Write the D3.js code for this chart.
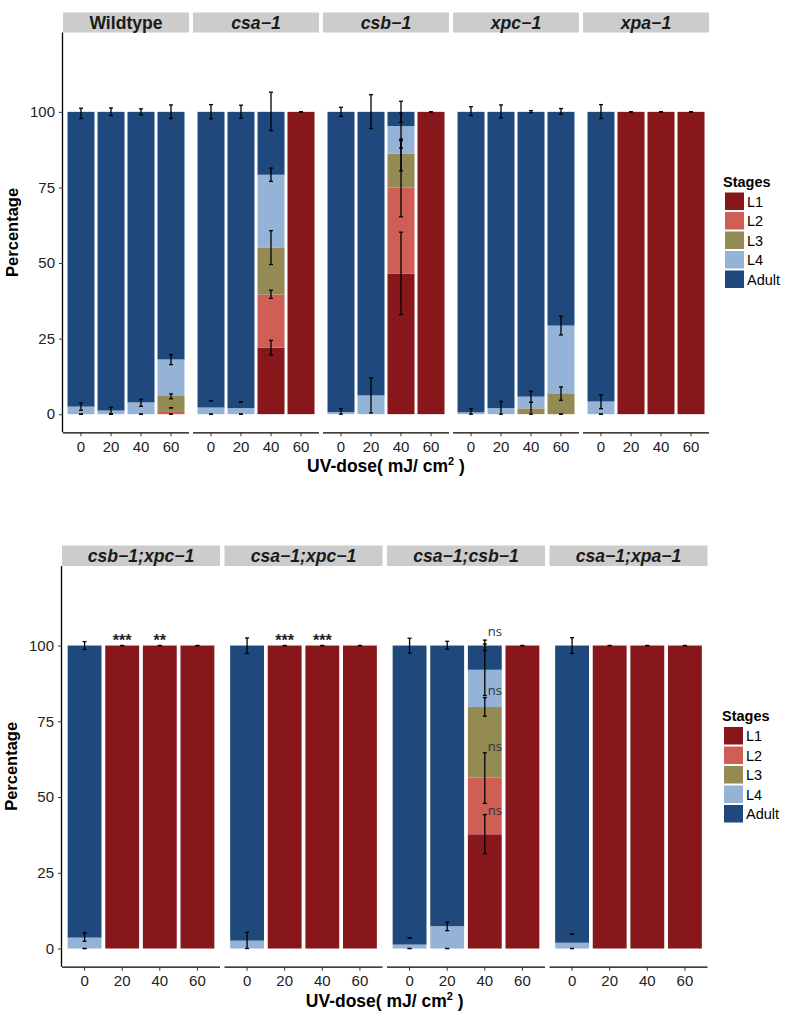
<!DOCTYPE html>
<html><head><meta charset="utf-8">
<script src="https://cdn.jsdelivr.net/npm/d3@7"></script>
<style>body{margin:0;background:#fff}svg{display:block}</style>
</head><body>
<svg id="c" width="800" height="1020"></svg>
<script>
// ---------- data ----------
const doses = ["0","20","40","60"];
const stages = ["L1","L2","L3","L4","Adult"];
const stageColors = ["#87171a","#cf5f55","#948a54","#95b3d7","#1f497d"];
const yTicks = [0,25,50,75,100];

const topGenotypes = ["Wildtype","csa\u22121","csb\u22121","xpc\u22121","xpa\u22121"];
const topL1    = [0,0,0,0,      0,0,22,100,     0,0,46.5,100,   0,0,0,0,        0,100,100,100];
const topL2    = [0,0,0,1,      0,0,17.6,0,     0,0,28.5,0,     0,0,0,0,        0,0,0,0];
const topL3    = [0,0,0,5,      0,0,15.4,0,     0,0,11.2,0,     0,0,1.9,6.9,    0,0,0,0];
const topL4    = [2.5,1.2,3.9,12.1, 2.2,2.0,24.2,0, 0.7,6.2,9.1,0, 0.6,2.0,3.9,22.4, 4.2,0,0,0];
const topAdult = [97.5,98.8,96.1,81.9, 97.8,98,20.8,0, 99.3,93.8,4.7,0, 99.4,98,94.2,70.7, 95.8,0,0,0];
// [genotype, dose, ymin, ymax]
const topErrors = [
 [0,0,97.8,101.2],[0,0,1.3,3.7],[0,0,0,0],
 [0,1,98.8,101.3],[0,1,0.1,2.3],[0,1,0,0],
 [0,2,99,101],[0,2,2.6,4.9],[0,2,0,0],
 [0,3,97.8,102.3],[0,3,16.4,19.7],[0,3,5.1,6.7],[0,3,2.1,2.1],[0,3,0,0],
 [1,0,97.7,102.4],[1,0,4.4,4.4],[1,0,0,0],
 [1,1,97.9,102.2],[1,1,4.0,4.0],[1,1,0,0],
 [1,2,93.8,106.5],[1,2,77,81.4],[1,2,49.5,60.7],[1,2,38.3,41],[1,2,19.6,24.4],
 [1,3,100,100],
 [2,0,98.5,101.5],[2,0,0,1.8],
 [2,1,94.5,105.7],[2,1,0.4,12],
 [2,2,96.5,103.5],[2,2,88,99.5],[2,2,80.5,91],[2,2,65.3,90.5],[2,2,32.9,60.2],
 [2,3,100,100],
 [3,0,98.8,101.7],[3,0,0,1.8],
 [3,1,98,102.3],[3,1,0,4.2],
 [3,2,99.7,100.4],[3,2,3.9,7.6],[3,2,0,3.9],
 [3,3,99.2,101.1],[3,3,26.2,32.4],[3,3,4.6,9.0],[3,3,0,0],
 [4,0,97.8,102.4],[4,0,1.8,6.4],[4,0,0,0],
 [4,1,100,100],[4,2,100,100],[4,3,100,100]
];

const botGenotypes = ["csb\u22121;xpc\u22121","csa\u22121;xpc\u22121","csa\u22121;csb\u22121","csa\u22121;xpa\u22121"];
const botL1    = [0,100,100,100,  0,100,100,100,  0,0,37.7,100,   0,100,100,100];
const botL2    = [0,0,0,0,        0,0,0,0,        0,0,18.7,0,     0,0,0,0];
const botL3    = [0,0,0,0,        0,0,0,0,        0,0,23.3,0,     0,0,0,0];
const botL4    = [3.6,0,0,0,      2.6,0,0,0,      1.3,7.4,12.3,0, 1.9,0,0,0];
const botAdult = [96.4,0,0,0,     97.4,0,0,0,     98.7,92.6,8,0,  98.1,0,0,0];
const botErrors = [
 [0,0,98.7,101.3],[0,0,2.4,5.2],[0,0,0,0],
 [0,1,100,100],[0,2,100,100],[0,3,100,100],
 [1,0,97.4,102.5],[1,0,0,5.3],
 [1,1,100,100],[1,2,100,100],[1,3,100,100],
 [2,0,97.5,102.4],[2,0,3.5,3.5],[2,0,0,0],
 [2,1,98.8,101.4],[2,1,5.9,8.7],[2,1,0,0],
 [2,2,98.3,101.8],[2,2,83.5,100.5],[2,2,76.7,82.8],[2,2,47.9,64.6],[2,2,31.3,44.2],
 [2,3,100,100],
 [3,0,97.4,102.6],[3,0,4.7,4.7],[3,0,0,0],
 [3,1,100,100],[3,2,100,100],[3,3,100,100]
];
// significance stars [genotype, dose, label, value]
const botStars = [[0,1,"***",102.7],[0,2,"**",102.7],[1,1,"***",102.7],[1,2,"***",102.7]];
// ns annotations [genotype, dose, label, value]
const botNs = [[2,2,"ns",103.1],[2,2,"ns",83.7],[2,2,"ns",65.1],[2,2,"ns",44.1]];

// ---------- drawing ----------
const svg = d3.select("#c");
const FONT = "'Liberation Sans', Arial, sans-serif";

function buildRows(genos, L1, L2, L3, L4, Ad){
  const rows = [];
  genos.forEach((g,gi)=>doses.forEach((d,di)=>{
    const k = gi*doses.length+di;
    rows.push({g:gi,d,L1:L1[k],L2:L2[k],L3:L3[k],L4:L4[k],Adult:Ad[k]});
  }));
  return rows;
}

function drawChart(o){
  const y = d3.scaleLinear().domain([-6,126.25]).range([o.bottom,o.top]);
  const rows = buildRows(o.genos,o.L1,o.L2,o.L3,o.L4,o.Ad);
  const series = d3.stack().keys(stages)(rows);
  const color = d3.scaleOrdinal().domain(stages).range(stageColors);
  const g = svg.append("g");

  o.genos.forEach((name,gi)=>{
    const x0 = o.left + gi*o.pitch;
    const x = d3.scaleBand().domain(doses).range([x0,x0+o.pw]).paddingInner(0.1).paddingOuter(0.15);
    const pg = g.append("g");
    // strip
    pg.append("rect").attr("x",x0).attr("y",o.top-o.stripH).attr("width",o.pw).attr("height",o.stripH).attr("fill","#cccccc");
    pg.append("text").attr("x",x0+o.pw/2).attr("y",o.top-o.stripH/2+6.2)
      .attr("text-anchor","middle").attr("font-family",FONT).attr("font-size",17.6).attr("font-weight","bold")
      .attr("font-style", name==="Wildtype"?"normal":"italic").attr("fill","#1a1a1a").text(name);
    // bars
    series.forEach(s=>{
      pg.append("g").attr("fill",color(s.key)).selectAll("rect")
        .data(s.filter(d=>d.data.g===gi && d[1]-d[0]>0))
        .join("rect")
        .attr("x",d=>x(d.data.d)).attr("width",x.bandwidth())
        .attr("y",d=>y(d[1])).attr("height",d=>y(d[0])-y(d[1]));
    });
    // error bars
    const errs = o.errors.filter(e=>e[0]===gi);
    const eg = pg.append("g").attr("stroke","#000").attr("stroke-width",1.3);
    errs.forEach(e=>{
      const cx = x(doses[e[1]])+x.bandwidth()/2;
      eg.append("line").attr("x1",cx).attr("x2",cx).attr("y1",y(e[2])).attr("y2",y(e[3]));
      [e[2],e[3]].forEach(v=>eg.append("line").attr("x1",cx-2).attr("x2",cx+2).attr("y1",y(v)).attr("y2",y(v)));
    });
    // stars
    (o.stars||[]).filter(s=>s[0]===gi).forEach(s=>{
      const cx = x(doses[s[1]])+x.bandwidth()/2;
      pg.append("text").attr("x",cx).attr("y",y(s[3])+9).attr("text-anchor","middle")
        .attr("font-family",FONT).attr("font-size",16).attr("font-weight","bold").attr("fill","#222").text(s[2]);
    });
    (o.ns||[]).filter(s=>s[0]===gi).forEach(s=>{
      const cx = x(doses[s[1]])+x.bandwidth()/2;
      pg.append("text").attr("x",cx+3).attr("y",y(s[3])).attr("text-anchor","start")
        .attr("font-family","'Open Sans', sans-serif").attr("font-size",13).attr("fill","#333").text(s[2]);
    });
    // x axis per panel
    const ax = pg.append("g").attr("transform",`translate(0,${o.bottom})`)
      .call(d3.axisBottom(x).tickSize(4).tickSizeOuter(0).tickPadding(5));
    ax.select(".domain").attr("stroke","#000").attr("stroke-width",1.3).attr("d",`M${x0},0.5H${x0+o.pw}`);
    ax.selectAll(".tick line").attr("stroke","#333");
    ax.selectAll("text").attr("font-family",FONT).attr("font-size",15).attr("fill","#222");
  });

  // y axis
  const ay = g.append("g").attr("transform",`translate(${o.left},0)`)
    .call(d3.axisLeft(y).tickValues(yTicks).tickSize(4).tickPadding(4));
  ay.select(".domain").attr("stroke","#000").attr("stroke-width",1.3).attr("d",`M-0.5,${o.top}V${o.bottom}`);
  ay.selectAll(".tick line").attr("stroke","#333");
  ay.selectAll("text").attr("font-family",FONT).attr("font-size",15).attr("fill","#222");

  // titles
  g.append("text").attr("transform",`translate(${o.left-45},${(o.top+o.bottom)/2}) rotate(-90)`)
    .attr("text-anchor","middle").attr("font-family",FONT).attr("font-size",16.5).attr("font-weight","bold").text("Percentage");
  const tx = o.left + ((o.genos.length-1)*o.pitch + o.pw)/2;
  const xt = g.append("text").attr("x",tx).attr("y",o.bottom+40).attr("text-anchor","middle")
    .attr("font-family",FONT).attr("font-size",17.5).attr("font-weight","bold");
  xt.append("tspan").text("UV-dose( mJ/ cm");
  xt.append("tspan").attr("font-size",11).attr("dy",-7).text("2");
  xt.append("tspan").attr("dy",7).text(" )");

  // legend
  const lg = g.append("g").attr("transform",`translate(${o.legX},${o.legY})`);
  lg.append("text").attr("x",-2).attr("y",-6).attr("font-family",FONT).attr("font-size",14.5).attr("font-weight","bold").text("Stages");
  stages.forEach((s,i)=>{
    lg.append("rect").attr("x",0).attr("y",i*19.5).attr("width",19).attr("height",17.5).attr("fill",color(s));
    lg.append("text").attr("x",22).attr("y",i*19.5+14).attr("font-family",FONT).attr("font-size",14.5).text(s);
  });
}

drawChart({genos:topGenotypes,L1:topL1,L2:topL2,L3:topL3,L4:topL4,Ad:topAdult,errors:topErrors,
  left:63,pitch:130,pw:126,top:32.5,bottom:432.3,stripH:20,legX:725,legY:192.5});
drawChart({genos:botGenotypes,L1:botL1,L2:botL2,L3:botL3,L4:botL4,Ad:botAdult,errors:botErrors,
  stars:botStars,ns:botNs,
  left:62,pitch:162.5,pw:158,top:566,bottom:966.7,stripH:20.5,legX:724,legY:727});
</script>
</body></html>
